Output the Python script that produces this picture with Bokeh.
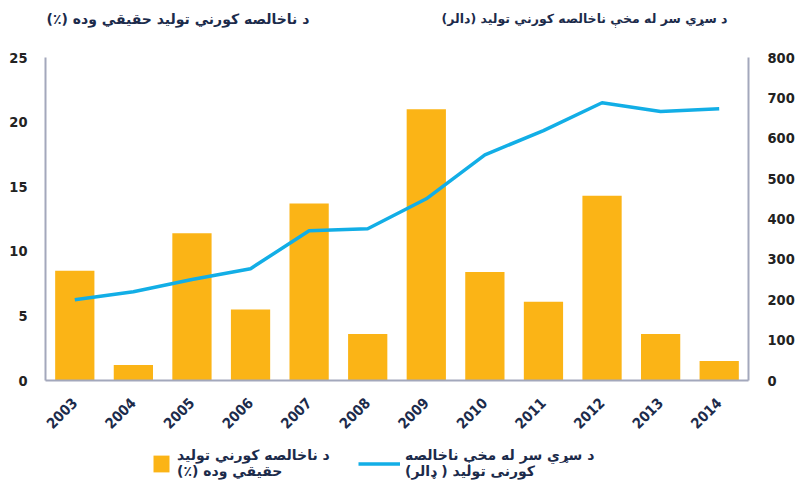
import math
from bokeh.plotting import figure
from bokeh.layouts import column
from bokeh.models import (Range1d, LinearAxis, FixedTicker, Label, Legend, LegendItem, FactorRange)
from bokeh.embed import file_html
from bokeh.resources import INLINE

years = ["2003", "2004", "2005", "2006", "2007", "2008", "2009", "2010", "2011", "2012", "2013", "2014"]
growth_pct = [8.5, 1.2, 11.4, 5.5, 13.7, 3.6, 21.0, 8.4, 6.1, 14.3, 3.6, 1.5]
gdp_per_capita = [200, 220, 250, 277, 371, 376, 450, 559, 619, 688, 666, 673]
left_ticks = [0, 5, 10, 15, 20, 25]
right_ticks = [0, 100, 200, 300, 400, 500, 600, 700, 800]

RLM = "\u200f"
title_left = "د ناخالصه کورني تولید حقیقي وده  (٪)" + RLM
title_right = "د سړي سر له مخې ناخالصه کورني تولید  (دالر)" + RLM
legend_bar = "د ناخالصه کورني تولید" + RLM + "\n" + "حقیقي وده (٪)" + RLM
legend_line = "د سړي سر له مخې ناخالصه" + RLM + "\n" + "کورنی تولید ( ډالر)" + RLM

BAR = "#FBB416"
LINE = "#12AEE6"
AXIS = "#A3A8BC"
NAVY = "#1C2B4B"
NUM_FONT = "DejaVu Sans Condensed"
AR_FONT = "DejaVu Sans"
BL, BR, FW = 45, 47, 703


def strip(h):
    f = figure(frame_width=FW, frame_height=h, x_range=Range1d(0, 1), y_range=Range1d(0, 1),
               x_axis_location=None, y_axis_location=None,
               min_border_left=BL, min_border_right=BR, min_border_top=0, min_border_bottom=0,
               outline_line_color=None, output_backend="svg", toolbar_location=None)
    f.xgrid.visible = False
    f.ygrid.visible = False
    return f


# ---- header with the two axis titles (x in px from the plot frame's left edge)
header = strip(45)
for txt, xpos, size in ((title_left, 1, "14px"), (title_right, 396, "12.5px")):
    header.add_layout(Label(x=xpos, y=27, x_units="screen", y_units="screen", text=txt,
                            text_align="left", text_baseline="middle",
                            text_font=AR_FONT, text_font_style="bold", text_font_size=size,
                            text_color=NAVY))

# ---- main chart
p = figure(x_range=FactorRange(*years), y_range=Range1d(0, 25),
           frame_width=FW, frame_height=323,
           min_border_left=BL, min_border_right=BR, min_border_top=12, min_border_bottom=55,
           output_backend="svg", toolbar_location=None, outline_line_color=None)
p.extra_y_ranges = {"right": Range1d(0, 800)}

p.vbar(x=years, top=growth_pct, width=0.67, color=BAR, line_color=None)
p.line(x=years, y=gdp_per_capita, y_range_name="right", line_color=LINE, line_width=3.5)

p.xgrid.visible = False
p.ygrid.visible = False


def style_axis(ax, standoff, color):
    ax.axis_line_color = AXIS
    ax.axis_line_width = 2
    ax.major_tick_line_color = None
    ax.minor_tick_line_color = None
    ax.major_label_standoff = standoff
    ax.major_label_text_font = NUM_FONT
    ax.major_label_text_font_style = "bold"
    ax.major_label_text_font_size = "14.5px"
    ax.major_label_text_color = color


ya = p.yaxis[0]
ya.ticker = FixedTicker(ticks=left_ticks)
style_axis(ya, 12, "#222222")

ra = LinearAxis(y_range_name="right", ticker=FixedTicker(ticks=right_ticks))
style_axis(ra, 13, "#222222")
p.add_layout(ra, "right")

xa = p.xaxis[0]
style_axis(xa, 14, NAVY)
xa.major_label_orientation = math.pi / 4

# ---- footer with the legend (key renderers hidden; only their legend glyphs show)
footer = strip(52)
idx = list(range(len(years)))
bar_key = footer.vbar(x=idx, top=growth_pct, width=0.67, color=BAR, line_color=None, visible=False)
line_key = footer.line(x=idx, y=gdp_per_capita, line_color=LINE, line_width=3.5, visible=False)

common = dict(padding=0, margin=0, border_line_color=None, background_fill_alpha=0,
              inactive_fill_alpha=0,
              label_text_font=AR_FONT, label_text_font_style="bold", label_text_font_size="14px",
              label_text_color=NAVY, label_text_line_height=1.35)
leg1 = Legend(items=[LegendItem(label=legend_bar, renderers=[bar_key])], location=(106, 9),
              glyph_width=20, glyph_height=21, label_standoff=6, **common)
leg2 = Legend(items=[LegendItem(label=legend_line, renderers=[line_key])], location=(313, 9),
              glyph_width=42, glyph_height=21, label_standoff=5, **common)
footer.add_layout(leg1, "center")
footer.add_layout(leg2, "center")

layout = column(header, p, footer, spacing=0)
open("out.html", "w").write(file_html(layout, INLINE))
